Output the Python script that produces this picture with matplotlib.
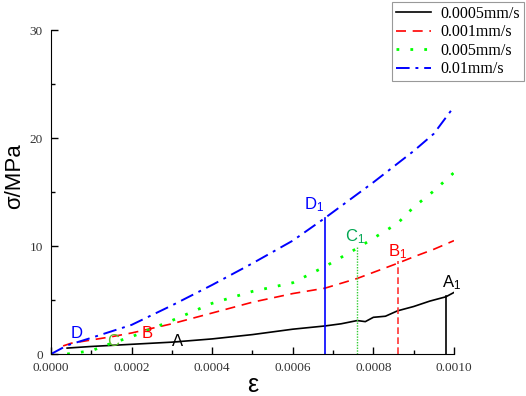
import numpy as np
import matplotlib.pyplot as plt
from matplotlib.ticker import MultipleLocator, FuncFormatter

# strain values and stress readings (MPa) for each loading rate
x_a = [0.00004, 0.0001, 0.0002, 0.0003, 0.0004, 0.0005, 0.0006, 0.00068, 0.00072,
       0.00076, 0.00078, 0.0008, 0.00083, 0.00086, 0.0009, 0.00094, 0.00098, 0.001]
y_a = [0.55, 0.7, 0.9, 1.1, 1.4, 1.8, 2.3, 2.6, 2.8, 3.1, 3.0, 3.4, 3.5, 4.0, 4.4, 4.9, 5.3, 5.7]

x_b = [0.00003, 0.00005, 0.0001, 0.00015, 0.0002, 0.0003, 0.0004, 0.0005, 0.0006,
       0.00068, 0.00076, 0.00086, 0.0009, 0.00095, 0.001]
y_b = [0.75, 1.0, 1.3, 1.6, 1.95, 2.8, 3.8, 4.8, 5.6, 6.1, 7.0, 8.4, 9.0, 9.7, 10.5]

x_c = [0.00004, 0.0001, 0.00015, 0.0002, 0.0003, 0.0004, 0.0005, 0.0006, 0.00068,
       0.00076, 0.00086, 0.0009, 0.00095, 0.001]
y_c = [0.0, 0.3, 1.0, 1.6, 3.1, 4.7, 5.8, 6.6, 8.1, 9.8, 12.1, 13.6, 15.1, 16.8]

x_d = [0.0, 0.00004, 0.0001, 0.0002, 0.0003, 0.0004, 0.0005, 0.0006, 0.00068,
       0.0008, 0.0009, 0.00095, 0.001]
y_d = [0.0, 0.8, 1.5, 2.7, 4.5, 6.4, 8.4, 10.5, 12.6, 15.9, 18.8, 20.4, 22.9]

labels = ['0.0005mm/s', '0.001mm/s', '0.005mm/s', '0.01mm/s']

# failure points A1..D1 (strain, stress)
fail_x = [0.00098, 0.00086, 0.00076, 0.00068]
fail_y = [5.4, 8.6, 9.9, 12.6]

# start point labels
start_x = [0.000315, 0.000238, 0.000154, 0.0000645]
start_y = [1.2, 1.9, 1.2, 1.9]

fig = plt.figure(figsize=(5.26, 3.96), dpi=100)
ax = fig.add_axes([0.097, 0.106, 0.766, 0.818])

ax.plot(x_a, y_a, color='black', lw=1.2, ls='-', label=labels[0])
ax.plot(x_b, y_b, color='red', lw=1.2, ls=(0, (6, 4)), label=labels[1])
ax.plot(x_c, y_c, color='#00ff00', lw=2, ls=(0, (1, 4)), label=labels[2])
ax.plot(x_d, y_d, color='blue', lw=1.4, ls=(0, (7, 3, 1.5, 3)), label=labels[3])

# vertical drop lines at failure
ax.plot([fail_x[0]] * 2, [0, fail_y[0]], color='black', lw=1.2)
ax.plot([fail_x[1]] * 2, [0, fail_y[1]], color='#ff3333', lw=1.2, ls=(0, (4, 2)))
ax.plot([fail_x[2]] * 2, [0, fail_y[2]], color='#33cc33', lw=1.0, ls=(0, (1, 1)))
ax.plot([fail_x[3]] * 2, [0, fail_y[3]], color='blue', lw=1.2)

sfont = dict(family='Liberation Sans', fontsize=12, zorder=5)
cols = ['black', 'red', '#00a651', 'blue']
names = ['A', 'B', 'C', 'D']
offs = [(0.000013, 1.2), (0.0, 0.9), (-0.000005, 1.0), (-0.000028, 1.2)]
for i in range(4):
    ax.text(fail_x[i] + offs[i][0], fail_y[i] + offs[i][1],
            r'$\mathregular{%s_1}$' % names[i], color=cols[i],
            ha='center', va='center', **sfont)

start_cols = ['black', 'red', '#5cc02a', 'blue']
for i in range(4):
    ax.text(start_x[i], start_y[i], names[i], color=start_cols[i],
            ha='center', va='center', **sfont)

ax.set_xlim(0, 0.001)
ax.set_ylim(0, 30)
ax.xaxis.set_major_locator(MultipleLocator(0.0002))
ax.xaxis.set_minor_locator(MultipleLocator(0.0001))
ax.yaxis.set_major_locator(MultipleLocator(10))
ax.yaxis.set_minor_locator(MultipleLocator(5))
ax.xaxis.set_major_formatter(FuncFormatter(lambda v, p: '%.4f' % v))
ax.tick_params(which='major', direction='in', length=5, width=1, labelsize=9.5)
ax.tick_params(which='minor', direction='in', length=3, width=1)
ax.tick_params(axis='x', pad=6)
ax.tick_params(axis='y', pad=6)
for t in ax.get_xticklabels() + ax.get_yticklabels():
    t.set_family('Liberation Serif')
    t.set_color('#333333')

ax.spines['top'].set_visible(False)
ax.spines['right'].set_visible(False)

fig.text(253 / 526, 1 - 385 / 396, 'ε', family='Liberation Sans', fontsize=18,
         ha='center', va='center')
fig.text(15 / 526, 1 - 176 / 396, 'σ/MPa', family='Liberation Sans', fontsize=16,
         rotation=90, ha='center', va='center')

leg = ax.legend(loc='upper right', bbox_to_anchor=(524 / 526, 394 / 396),
                bbox_transform=fig.transFigure, borderaxespad=0,
                prop={'family': 'Liberation Serif', 'size': 11.5},
                frameon=True, fancybox=False, edgecolor='#999999', framealpha=1,
                handlelength=2.2, handletextpad=0.6, borderpad=0.25, labelspacing=0.15)
leg.get_frame().set_linewidth(0.8)

fig.savefig('out.png', dpi=100)
